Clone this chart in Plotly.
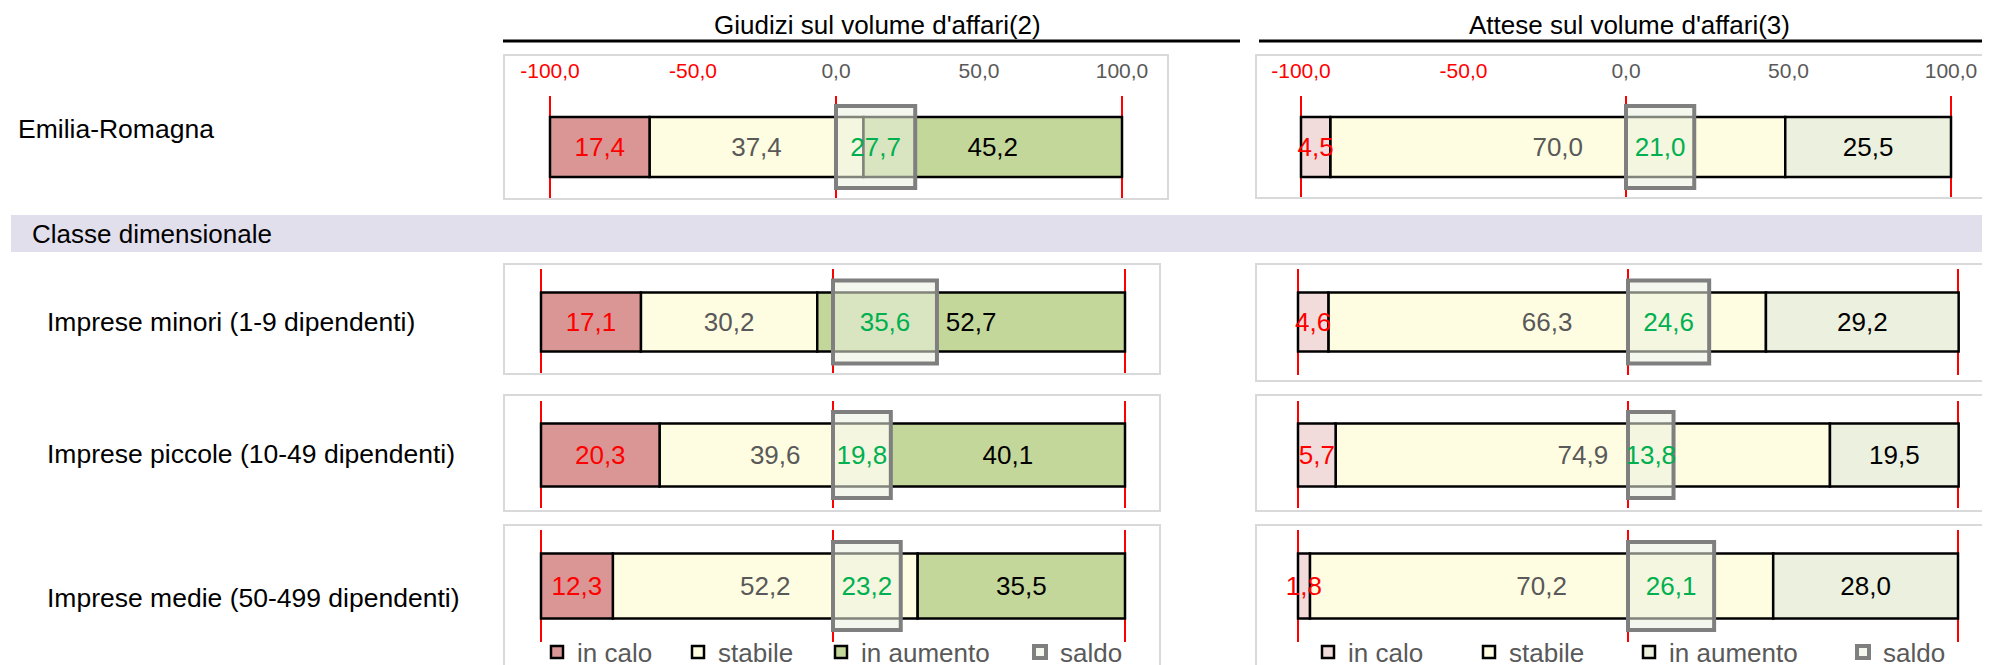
import plotly.graph_objects as go

# ---------------- data ----------------
ROW_LABELS = [
    "Emilia-Romagna",
    "Imprese minori (1-9 dipendenti)",
    "Imprese piccole (10-49 dipendenti)",
    "Imprese medie (50-499 dipendenti)",
]
SECTION_LABEL = "Classe dimensionale"
SERIES_NAMES = ["in calo", "stabile", "in aumento", "saldo"]
PANEL_TITLES = ["Giudizi sul volume d'affari(2)", "Attese sul volume d'affari(3)"]

giudizi_in_calo = [17.4, 17.1, 20.3, 12.3]
giudizi_stabile = [37.4, 30.2, 39.6, 52.2]
giudizi_in_aumento = [45.2, 52.7, 40.1, 35.5]
giudizi_saldo = [27.7, 35.6, 19.8, 23.2]

attese_in_calo = [4.5, 4.6, 5.7, 1.8]
attese_stabile = [70.0, 66.3, 74.9, 70.2]
attese_in_aumento = [25.5, 29.2, 19.5, 28.0]
attese_saldo = [21.0, 24.6, 13.8, 26.1]

TICK_VALUES = [-100, -50, 0, 50, 100]
TICK_LABELS = ["-100,0", "-50,0", "0,0", "50,0", "100,0"]
GUIDE_VALUES = [-100, 0, 100]

# ---------------- layout / style ----------------
W, H = 1990, 665
OFF = 8  # the page body adds an 8px margin; layout positions below are page pixels
FONT = "Liberation Sans, Arial, Helvetica, sans-serif"
TEXT_COLORS = ["#FF0000", "#595959", "#000000", "#00B050"]
SALDO_FILL = "rgba(235,241,222,0.55)"
SALDO_LINE = "#7F7F7F"
FRAME_COLOR = "#D9D9D9"


def px_x(p):
    return (p - OFF) / W


def px_y(p):
    return 1 - (p - OFF) / H


ROW_GEOM = [
    dict(top=96, bottom=198, center=147, bar=60, box=82),
    dict(top=269, bottom=375, center=322, bar=59, box=83),
    dict(top=401, bottom=508, center=455, bar=63, box=86),
    dict(top=530, bottom=642, center=586, bar=65, box=88),
]
ROW_LABEL_POS = [(16, 129), (45, 322), (45, 454), (45, 598)]

COLUMNS = [
    dict(
        data=[giudizi_in_calo, giudizi_stabile, giudizi_in_aumento, giudizi_saldo],
        axis=[(550, 1122), (541, 1125), (541, 1125), (541, 1125)],
        frames=[(504, 1168, 55, 199), (504, 1160, 264, 374), (504, 1160, 395, 511), (504, 1160, 525, 740)],
        title_x=877, rule=(503, 1240),
        colors=["#D99694", "#FFFDE1", "#C4D79B", SALDO_FILL],
        legend="legend", legend_widths=[96, 98, 154, 70], legend_x=537,
    ),
    dict(
        data=[attese_in_calo, attese_stabile, attese_in_aumento, attese_saldo],
        axis=[(1301, 1951), (1298, 1958), (1298, 1958), (1298, 1958)],
        frames=[(1256, 2030, 55, 198), (1256, 2030, 264, 381), (1256, 2030, 395, 511), (1256, 2030, 525, 740)],
        title_x=1629, rule=(1259, 2010),
        colors=["#F2DCDB", "#FFFDE1", "#EBF1DE", SALDO_FILL],
        legend="legend2", legend_widths=[116, 115, 169, 70], legend_x=1308,
    ),
]

PAD = 4  # axis units of padding beyond -100/100
DRAW_ORDER = [1, 2, 0]  # draw "in calo" last so its label stays on top

fig = go.Figure()
layout = dict(
    width=W, height=H, margin=dict(l=0, r=0, t=0, b=0, pad=0, autoexpand=False),
    paper_bgcolor="white", plot_bgcolor="rgba(0,0,0,0)",
    barmode="overlay", separators=",.", showlegend=True,
    uniformtext=dict(mode="show", minsize=26),
    font=dict(family=FONT, size=26, color="#000000"),
)
shapes = []
annotations = []

colored_ticks = [
    '<span style="color:%s">%s</span>' % ("#FF0000" if v < 0 else "#595959", t)
    for v, t in zip(TICK_VALUES, TICK_LABELS)
]

for c, col in enumerate(COLUMNS):
    calo, stab, aum, saldo = col["data"]
    for r, g in enumerate(ROW_GEOM):
        k = r * 2 + c + 1
        xa = "x" if k == 1 else "x%d" % k
        ya = "y" if k == 1 else "y%d" % k
        xl, xr = col["axis"][r]
        ppu = (xr - xl) / 200.0
        xaxis = dict(
            domain=[px_x(xl - PAD * ppu), px_x(xr + PAD * ppu)],
            range=[-100 - PAD, 100 + PAD], anchor=ya,
            showgrid=False, zeroline=False, showline=False, fixedrange=True,
            showticklabels=(r == 0), side="top", ticks="", automargin=False,
            tickvals=TICK_VALUES, ticktext=colored_ticks,
            tickfont=dict(family=FONT, size=21, color="#595959"),
            ticklabelstandoff=13,
        )
        yaxis = dict(
            domain=[px_y(g["bottom"]), px_y(g["top"])],
            range=[-(g["bottom"] - g["center"]), g["center"] - g["top"]],
            anchor=xa, visible=False, fixedrange=True, automargin=False,
        )
        layout["xaxis" if k == 1 else "xaxis%d" % k] = xaxis
        layout["yaxis" if k == 1 else "yaxis%d" % k] = yaxis

        # stacked segments (each percentage spans 2 axis units over -100..100)
        vals = [calo[r], stab[r], aum[r]]
        bases = [-100.0, -100.0 + 2 * vals[0], -100.0 + 2 * (vals[0] + vals[1])]
        for s in DRAW_ORDER:
            fig.add_trace(go.Bar(
                x=[2 * vals[s]], base=[bases[s]], y=[0], orientation="h",
                width=[g["bar"]], xaxis=xa, yaxis=ya,
                marker=dict(color=col["colors"][s], line=dict(color="#000000", width=2.5)),
                customdata=[vals[s]], texttemplate="%{customdata:.1f}",
                textposition="inside", insidetextanchor="middle", textangle=0,
                constraintext="none", cliponaxis=False,
                textfont=dict(family=FONT, size=26, color=TEXT_COLORS[s]),
                name=SERIES_NAMES[s], legend=col["legend"], legendrank=s + 1,
                legendwidth=col["legend_widths"][s],
                showlegend=(r == 3), hoverinfo="skip",
            ))
        # saldo box
        fig.add_trace(go.Bar(
            x=[saldo[r]], base=[0], y=[0], orientation="h",
            width=[g["box"]], xaxis=xa, yaxis=ya,
            marker=dict(color=SALDO_FILL, line=dict(color=SALDO_LINE, width=4)),
            customdata=[saldo[r]], texttemplate="%{customdata:.1f}",
            textposition="inside", insidetextanchor="middle", textangle=0,
            constraintext="none", cliponaxis=False,
            textfont=dict(family=FONT, size=26, color=TEXT_COLORS[3]),
            name=SERIES_NAMES[3], legend=col["legend"], legendrank=4,
            legendwidth=col["legend_widths"][3],
            showlegend=(r == 3), hoverinfo="skip",
        ))
        # red guide lines
        for v in GUIDE_VALUES:
            shapes.append(dict(type="line", xref=xa, yref=ya + " domain", x0=v, x1=v, y0=0, y1=1,
                               line=dict(color="#FF0000", width=2), layer="below"))
        # panel frame
        fx0, fx1, fy0, fy1 = col["frames"][r]
        shapes.append(dict(type="rect", xref="paper", yref="paper",
                           x0=px_x(fx0), x1=px_x(fx1), y0=px_y(fy1), y1=px_y(fy0),
                           line=dict(color=FRAME_COLOR, width=2), fillcolor="rgba(0,0,0,0)",
                           layer="below"))

    # column title and rule
    annotations.append(dict(text=PANEL_TITLES[c], xref="paper", yref="paper",
                            x=px_x(col["title_x"]), y=px_y(25), xanchor="center", yanchor="middle",
                            showarrow=False, font=dict(family=FONT, size=26, color="#000000")))
    shapes.append(dict(type="line", xref="paper", yref="paper",
                       x0=px_x(col["rule"][0]), x1=px_x(col["rule"][1]), y0=px_y(41), y1=px_y(41),
                       line=dict(color="#000000", width=3)))
    layout[col["legend"]] = dict(
        orientation="h", x=px_x(col["legend_x"]), y=px_y(652), xanchor="left", yanchor="middle",
        bgcolor="rgba(0,0,0,0)", borderwidth=0, itemclick=False, itemdoubleclick=False,
        font=dict(family=FONT, size=26, color="#595959"), traceorder="normal",
    )

# section band
shapes.append(dict(type="rect", xref="paper", yref="paper", x0=px_x(11), x1=1.02,
                   y0=px_y(252), y1=px_y(215), fillcolor="#E1DFEC", line=dict(width=0),
                   layer="below"))
annotations.append(dict(text=SECTION_LABEL, xref="paper", yref="paper", x=px_x(30), y=px_y(234),
                        xanchor="left", yanchor="middle", showarrow=False,
                        font=dict(family=FONT, size=26, color="#000000")))
for lbl, (lx, ly) in zip(ROW_LABELS, ROW_LABEL_POS):
    annotations.append(dict(text=lbl, xref="paper", yref="paper", x=px_x(lx), y=px_y(ly),
                            xanchor="left", yanchor="middle", showarrow=False,
                            font=dict(family=FONT, size=26.5, color="#000000")))

layout["shapes"] = shapes
layout["annotations"] = annotations
fig.update_layout(**layout)
fig.write_html("out.html", config={"displayModeBar": False})
